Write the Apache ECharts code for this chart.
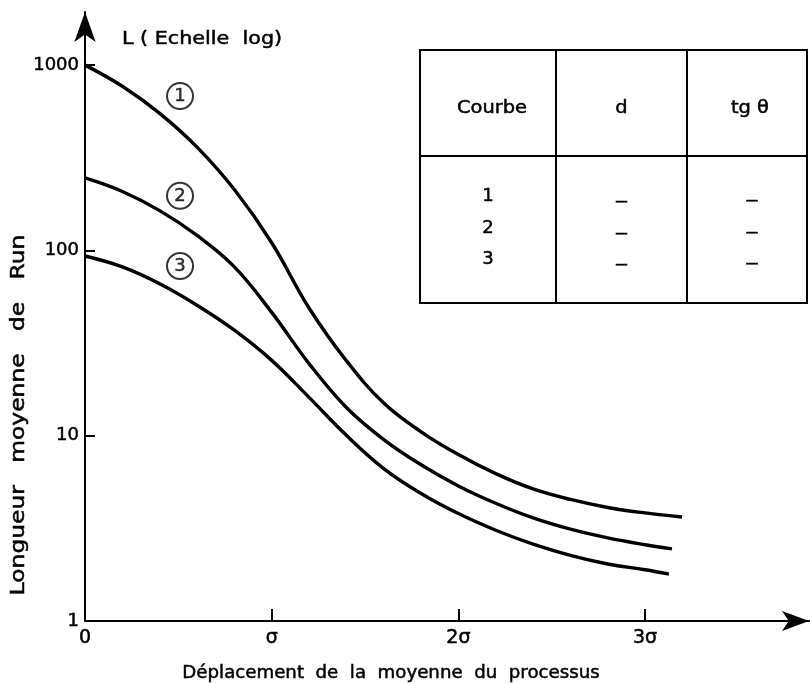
<!DOCTYPE html>
<html>
<head>
<meta charset="utf-8">
<script src="https://cdn.jsdelivr.net/npm/echarts@6/dist/echarts.min.js"></script>
<style>html,body{margin:0;padding:0;background:#fff}#c{width:810px;height:683px}</style>
</head>
<body>
<div id="c"></div>
<script>
// ---- data (x in units of sigma, L = average run length, log scale) ----
const curve1X = [0, 0.2, 0.4, 0.6, 0.8, 1.0, 1.2, 1.4, 1.6, 1.8, 2.0, 2.2, 2.4, 2.6, 2.8, 3.0, 3.198];
const curve1L = [1000, 769, 549, 361, 213, 110, 48.9, 25.4, 15.0, 10.5, 7.91, 6.24, 5.16, 4.53, 4.10, 3.83, 3.64];
const curve2X = [0, 0.2, 0.4, 0.6, 0.8, 1.0, 1.2, 1.4, 1.6, 1.8, 2.0, 2.2, 2.4, 2.6, 2.8, 3.0, 3.144];
const curve2L = [246, 208, 164, 120.5, 81.5, 46.3, 24.5, 14.2, 9.53, 6.97, 5.36, 4.32, 3.60, 3.13, 2.81, 2.58, 2.45];
const curve3X = [0, 0.2, 0.4, 0.6, 0.8, 1.0, 1.2, 1.4, 1.6, 1.8, 2.0, 2.2, 2.4, 2.6, 2.8, 3.0, 3.128];
const curve3L = [93.3, 81.5, 66.1, 50.6, 37.1, 25.5, 16.1, 10.05, 6.65, 4.88, 3.80, 3.09, 2.60, 2.26, 2.03, 1.89, 1.79];
const curveNames = ['1', '2', '3'];
const curveMarkX = [0.509, 0.509, 0.509];
const curveMarkL = [681, 197, 82.4];
const xTickValues = [0, 1, 2, 3];
const xTickLabels = ['0', 'σ', '2σ', '3σ'];
const yTickValues = [1, 10, 100, 1000];
const yTickLabels = ['1', '10', '100', '1000'];
const xAxisTitle = 'Déplacement  de  la  moyenne  du  processus';
const yAxisTitle = 'Longueur   moyenne   de   Run';
const yUnitTitle = 'L ( Echelle  log)';
const tableHeaders = ['Courbe', 'd', 'tg θ'];
const tableRows = ['1', '2', '3'];
const tableD = ['–', '–', '–'];
const tableTg = ['–', '–', '–'];

const FONT = 'DejaVu Sans';
const INK = '#000';
const BOLDEN = {textBorderColor: INK, textBorderWidth: 0.5};

const chart = echarts.init(document.getElementById('c'), null, {renderer: 'canvas'});

function pairs(xs, ys) { return xs.map((x, i) => [x, ys[i]]); }

const lineSeries = [[curve1X, curve1L], [curve2X, curve2L], [curve3X, curve3L]].map((c, i) => ({
  type: 'line',
  name: curveNames[i],
  data: pairs(c[0], c[1]),
  smooth: 0.4,
  showSymbol: false,
  lineStyle: {color: INK, width: 3.4},
  z: 3,
  silent: true
}));

const markSeries = {
  type: 'scatter',
  data: curveMarkX.map((x, i) => ({value: [x, curveMarkL[i]], label: {formatter: curveNames[i]}})),
  symbol: 'circle',
  symbolSize: 26,
  itemStyle: {color: '#fff', borderColor: INK, borderWidth: 2},
  label: Object.assign({show: true, position: 'inside', color: INK, fontFamily: FONT, fontSize: 18}, BOLDEN),
  z: 4,
  silent: true
};

// table geometry (layout)
const T = {x0: 420, y0: 50, x1: 807, y1: 303, c1: 556, c2: 687, r1: 156};
const colCenters = [492, 621.5, 750];
const headerY = 108;
const rowYs = [196, 228, 259];

function txt(x, y, text, size, extra, align) {
  return Object.assign({type: 'text', x: x, y: y, style: {text: text, fontFamily: FONT, fontSize: size, fill: INK, stroke: INK, lineWidth: 0.5, align: align || 'center', verticalAlign: 'middle'}}, extra || {});
}

const graphics = [
  {type: 'rect', shape: {x: T.x0, y: T.y0, width: T.x1 - T.x0, height: T.y1 - T.y0}, style: {fill: 'none', stroke: INK, lineWidth: 2}},
  {type: 'line', shape: {x1: T.c1, y1: T.y0, x2: T.c1, y2: T.y1}, style: {stroke: INK, lineWidth: 2}},
  {type: 'line', shape: {x1: T.c2, y1: T.y0, x2: T.c2, y2: T.y1}, style: {stroke: INK, lineWidth: 2}},
  {type: 'line', shape: {x1: T.x0, y1: T.r1, x2: T.x1, y2: T.r1}, style: {stroke: INK, lineWidth: 2}},
  txt(391, 673, xAxisTitle, 18, {scaleX: 1.01}),
  txt(19, 415, yAxisTitle, 20, {rotation: Math.PI / 2, scaleX: 1.17}),
  txt(122, 39, yUnitTitle, 18, {scaleX: 1.15}, 'left')
];
tableHeaders.forEach((h, i) => graphics.push(txt(colCenters[i], headerY, h, 18, {scaleX: 1.08})));
tableRows.forEach((r, i) => {
  graphics.push(txt(colCenters[0] - 4, rowYs[i], r, 18));
  graphics.push(txt(colCenters[1], rowYs[i] + 5, tableD[i], 18, {scaleX: 1.5}));
  graphics.push(txt(colCenters[2] + 2, rowYs[i] + 4, tableTg[i], 18, {scaleX: 1.5}));
});

chart.setOption({
  animation: false,
  backgroundColor: '#fff',
  grid: {left: 85, right: 1, top: 12, bottom: 62, containLabel: false, outerBoundsMode: 'none'},
  xAxis: {
    type: 'value', min: 0, max: 3.878,
    splitLine: {show: false},
    axisLine: {show: true, onZero: false, symbol: ['none', 'arrow'], symbolSize: [15, 27], lineStyle: {color: INK, width: 2}},
    axisTick: {show: true, inside: true, length: 12, lineStyle: {color: INK, width: 2}, customValues: xTickValues.slice(1)},
    axisLabel: Object.assign({show: true, customValues: xTickValues, margin: 8, color: INK, fontFamily: FONT, fontSize: 19,
      formatter: v => xTickLabels[xTickValues.indexOf(Math.round(v))] || ''}, BOLDEN)
  },
  yAxis: {
    type: 'log', logBase: 10, min: 1, max: 1935,
    splitLine: {show: false},
    axisLine: {show: true, onZero: false, symbol: ['none', 'arrow'], symbolSize: [16, 30], lineStyle: {color: INK, width: 2}},
    axisTick: {show: true, inside: true, length: 10, lineStyle: {color: INK, width: 2}, customValues: yTickValues.slice(1)},
    axisLabel: Object.assign({show: true, customValues: yTickValues, margin: 6, color: INK, fontFamily: FONT, fontSize: 18,
      formatter: v => { const i = yTickValues.indexOf(Math.round(v)); return i >= 0 ? yTickLabels[i] : ''; }}, BOLDEN)
  },
  graphic: graphics,
  series: [...lineSeries, markSeries]
});
</script>
</body>
</html>
